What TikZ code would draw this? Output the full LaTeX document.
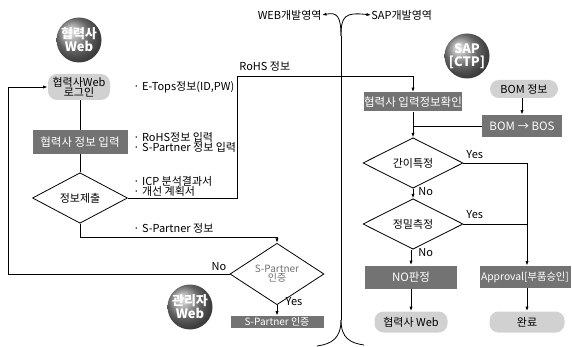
\documentclass[tikz,border=0pt]{standalone}
\usepackage{fontspec}
\setmainfont{Noto Sans CJK KR}
\usetikzlibrary{shapes.geometric,arrows.meta}
\begin{document}
\begin{tikzpicture}[x=1pt,y=-1pt,
  font=\fontsize{11}{12}\selectfont,
  line width=0.8pt,
  arr/.style={-{Latex[length=4.5pt,width=3.2pt]}},
  dbox/.style={rectangle, fill=black!55, text=white, inner sep=0pt, font=\fontsize{11.5}{12}\selectfont},
  pill/.style={rectangle, rounded corners=9pt, fill=black!18, inner sep=0pt, align=center},
  dia/.style={diamond, draw, fill=white, inner sep=0pt, align=center},
  ball/.style={circle, shading=ball, ball color=black!45, text=white, minimum size=45pt, inner sep=0pt, align=center, font=\fontsize{13}{13}\selectfont\bfseries},
  lbl/.style={inner sep=0pt, anchor=west, align=left}]
\useasboundingbox (0,0) rectangle (572,347);

% ---- WEB side ----
\node[ball] (wcirc) at (79,40) {협력사\\Web};
\node[pill, minimum width=62pt, minimum height=26pt] (login) at (79,87) {협력사Web\\[-2pt]로그인};
\node[dbox, minimum width=95pt, minimum height=24pt] (input) at (80,142) {협력사 정보 입력};
\node[dia, minimum width=95pt, minimum height=36pt] (submit) at (80,198) {정보제출};

\node[lbl] (l1) at (133,87) {· E-Tops정보(ID,PW)};
\node[lbl] (l2) at (133,142) {· RoHS정보 입력\\[-2pt]· S-Partner 정보 입력};
\node[lbl] (l3) at (133,186) {· ICP 분석결과서\\[-2pt]· 개선 계획서};
\node[lbl] (l4) at (133,228) {· S-Partner 정보};
\node[lbl] (l5) at (239,66) {RoHS 정보};

\node[dia, minimum width=94pt, minimum height=35pt, text=black!55, font=\fontsize{10}{10}\selectfont] (sp) at (277,274) {S-Partner\\[-1pt]인증};
\node[dbox, minimum width=93pt, minimum height=12pt, font=\fontsize{10}{10}\selectfont] (spok) at (277,322) {S-Partner 인증};
\node[ball] (admin) at (190,307) {관리자\\Web};

\node[inner sep=0pt] (no1) at (219,267) {No};
\node[inner sep=0pt] (yes1) at (294,302) {Yes};

% ---- divider ----
\node[inner sep=0pt, anchor=east] (webl) at (322,15) {WEB개발영역};
\node[inner sep=0pt, anchor=west] (sapl) at (371,15) {SAP개발영역};
\coordinate (dt) at (341,36);
\coordinate (db) at (341,320);
\draw (dt) -- (db);
\draw[arr] (dt) .. controls (341,16) and (337,12) .. (webl.east);
\draw[arr] (dt) .. controls (341,16) and (345,12) .. (sapl.west);
\coordinate (bl) at (317,346);
\coordinate (br) at (364,345);
\draw (db) .. controls (341,338) and (332,344) .. (bl);
\draw (db) .. controls (341,338) and (350,343) .. (br);

% ---- SAP side ----
\node[ball] (sap) at (467,56) {SAP\\{[CTP]}};
\node[dbox, minimum width=98pt, minimum height=19pt] (check) at (413,102) {협력사 입력정보확인};
\node[pill, minimum width=68pt, minimum height=18pt] (bom) at (524,89) {BOM 정보};
\node[dbox, minimum width=80pt, minimum height=22pt] (bos) at (522,126) {BOM → BOS};
\node[dia, minimum width=100pt, minimum height=40pt] (simple) at (413,163) {간이특정};
\node[dia, minimum width=100pt, minimum height=39pt] (precise) at (413,224) {정밀측정};
\node[dbox, minimum width=92pt, minimum height=23pt] (ng) at (411,277) {NO판정};
\node[dbox, minimum width=91pt, minimum height=22pt, font=\fontsize{10.3}{12}\selectfont] (appr) at (525,277) {Approval[부품승인]};
\node[pill, minimum width=73pt, minimum height=21pt] (pweb) at (411,322) {협력사 Web};
\node[pill, minimum width=75pt, minimum height=21pt] (done) at (527,322) {완료};

\node[inner sep=0pt, anchor=west] (yes2) at (466,155) {Yes};
\node[inner sep=0pt, anchor=west] (yes3) at (466,215) {Yes};
\node[inner sep=0pt, anchor=west] (no2) at (418,192) {No};
\node[inner sep=0pt, anchor=west] (no3) at (418,253) {No};

% ---- WEB connectors ----
\coordinate (c1) at (237,76);
\coordinate (c2) at (277,237);
\coordinate (c3) at (8,274);
\draw (login.south -| input.north) -- (input);
\draw (input) -- (submit);
\draw[arr] (submit.east) -| (c1) -| (check.north);
\draw[arr] (submit.south) |- (c2) -- (sp.north);
\draw[arr] (sp.west) -- (c3) |- (login.west);
\draw[arr] (sp.south) -- (spok.north);

% ---- SAP connectors ----
\coordinate (c4) at (527,163);
\draw[arr] (bom.south -| bos.north) -- (bos.north);
\draw (bos.west) -- (bos.west -| check.south);
\draw[arr] (check.south) -- (simple.north);
\draw[arr] (simple.south) -- (precise.north);
\draw[arr] (precise.south -| ng.north) -- (ng.north);
\draw[arr] (simple.east) -- (c4) -- (c4 |- appr.north);
\draw (precise.east) -- (precise.east -| c4);
\draw[arr] (ng) -- (pweb);
\draw[arr] (appr.south -| done.north) -- (done.north);
\end{tikzpicture}
\end{document}
